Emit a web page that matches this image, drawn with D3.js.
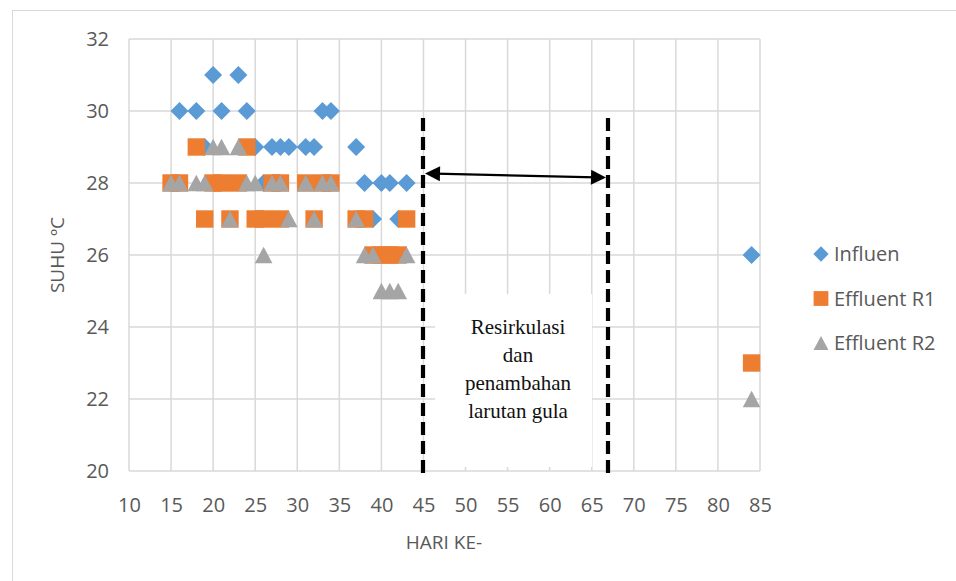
<!DOCTYPE html>
<html>
<head>
<meta charset="utf-8">
<script src="https://cdn.jsdelivr.net/npm/d3@7/dist/d3.min.js"></script>
<style>
  html, body { margin: 0; padding: 0; background: #fff; }
  svg { display: block; }
</style>
</head>
<body>
<svg id="chart" width="956" height="581"></svg>
<script>
// Temperature readings (°C) per day of operation
const influenDays   = [16, 18, 19, 20, 21, 23, 24, 25, 26, 27, 28, 29, 31, 32, 33, 34, 37, 38, 39, 40, 41, 42, 43, 84];
const influenValues = [30, 30, 29, 31, 30, 31, 30, 29, 28, 29, 29, 29, 29, 29, 30, 30, 29, 28, 27, 28, 28, 27, 28, 26];

const r1Days   = [15, 16, 18, 19, 20, 21, 22, 23, 24, 25, 26, 27, 28, 28, 31, 32, 33, 34, 37, 38, 39, 40, 41, 42, 43, 84];
const r1Values = [28, 28, 29, 27, 28, 28, 27, 28, 29, 27, 27, 28, 28, 27, 28, 27, 28, 28, 27, 27, 26, 26, 26, 26, 27, 23];

const r2Days   = [15, 16, 18, 19, 20, 21, 22, 23, 24, 25, 26, 27, 28, 29, 31, 32, 33, 34, 37, 38, 39, 40, 41, 42, 43, 84];
const r2Values = [28, 28, 28, 28, 29, 29, 27, 29, 28, 28, 26, 28, 28, 27, 28, 27, 28, 28, 27, 26, 26, 25, 25, 25, 26, 22];

const seriesNames = ["Influen", "Effluent R1", "Effluent R2"];
const xTicks = [10, 15, 20, 25, 30, 35, 40, 45, 50, 55, 60, 65, 70, 75, 80, 85];
const yTicks = [20, 22, 24, 26, 28, 30, 32];
const xTitle = "HARI KE-";
const yTitle = "SUHU ºC";
const noteLines = ["Resirkulasi", "dan", "penambahan", "larutan gula"];

const colors = ["#5B9BD5", "#ED7D31", "#A5A5A5"];
const font = "'Open Sans', sans-serif";
const textColor = "#595959";
const gridColor = "#D9D9D9";

const svg = d3.select("#chart");

// outer chart frame
svg.append("rect")
  .attr("x", 12.5).attr("y", 10.5).attr("width", 960).attr("height", 600)
  .attr("fill", "#fff").attr("stroke", gridColor).attr("stroke-width", 1);

const x = d3.scaleLinear().domain([10, 85]).range([129, 760]);
const y = d3.scaleLinear().domain([20, 32]).range([471, 39]);

// gridlines
const grid = svg.append("g");
grid.selectAll("line.h").data(yTicks).join("line")
  .attr("x1", x(10)).attr("x2", x(85))
  .attr("y1", d => y(d)).attr("y2", d => y(d))
  .attr("stroke", gridColor).attr("stroke-width", 1.5);
grid.selectAll("line.v").data(xTicks).join("line")
  .attr("y1", y(20)).attr("y2", y(32))
  .attr("x1", d => x(d)).attr("x2", d => x(d))
  .attr("stroke", gridColor).attr("stroke-width", 1.5);

// axes (labels only, lines come from the grid)
const xAxis = svg.append("g").attr("transform", `translate(0,${y(20)})`)
  .call(d3.axisBottom(x).tickValues(xTicks).tickSize(0).tickPadding(27).tickFormat(d3.format("d")));
const yAxis = svg.append("g").attr("transform", `translate(${x(10)},0)`)
  .call(d3.axisLeft(y).tickValues(yTicks).tickSize(0).tickPadding(20).tickFormat(d3.format("d")));
[xAxis, yAxis].forEach(a => {
  a.select(".domain").remove();
  a.selectAll("text").attr("font-family", font).attr("font-size", 20).attr("fill", textColor);
});

// axis titles
svg.append("text").text(xTitle)
  .attr("x", 444).attr("y", 549).attr("text-anchor", "middle")
  .attr("font-family", font).attr("font-size", 19).attr("fill", textColor);
svg.append("text").text(yTitle)
  .attr("transform", "translate(64,255) rotate(-90)").attr("text-anchor", "middle")
  .attr("font-family", font).attr("font-size", 19).attr("fill", textColor);

// marker shapes
const diamond = "M0,-9L9,0L0,9L-9,0Z";
const square  = "M-8.7,-8.7H8.7V8.7H-8.7Z";
const triangle = "M0,-8.2L8.8,8.2H-8.8Z";
const shapes = [diamond, square, triangle];

const series = [
  influenDays.map((d, i) => ({ day: d, value: influenValues[i] })),
  r1Days.map((d, i) => ({ day: d, value: r1Values[i] })),
  r2Days.map((d, i) => ({ day: d, value: r2Values[i] }))
];

series.forEach((pts, si) => {
  svg.append("g").selectAll("path").data(pts).join("path")
    .attr("d", shapes[si])
    .attr("transform", d => `translate(${x(d.day)},${y(d.value)})`)
    .attr("fill", colors[si]);
});

// legend
const legend = svg.append("g");
seriesNames.forEach((name, i) => {
  const ly = 254 + i * 44.5;
  legend.append("path").attr("d", shapes[i])
    .attr("transform", `translate(821,${ly}) scale(0.85)`).attr("fill", colors[i]);
  legend.append("text").text(name)
    .attr("x", 834).attr("y", ly).attr("dy", "0.35em")
    .attr("font-family", font).attr("font-size", 20).attr("fill", textColor);
});

// annotation text box
const boxX0 = 435, boxX1 = 592;
svg.append("rect")
  .attr("x", boxX0).attr("y", 294).attr("width", boxX1 - boxX0).attr("height", 173)
  .attr("fill", "#fff");
noteLines.forEach((t, i) => {
  svg.append("text").text(t)
    .attr("x", 518).attr("y", 334 + i * 28).attr("text-anchor", "middle")
    .attr("font-family", "'Liberation Serif', 'Times New Roman', serif")
    .attr("font-size", 21).attr("fill", "#111");
});

// dashed phase boundaries
const phaseX = [423, 608];
phaseX.forEach(px => {
  svg.append("line")
    .attr("x1", px).attr("x2", px).attr("y1", 118).attr("y2", 478)
    .attr("stroke", "#000").attr("stroke-width", 4.2)
    .attr("stroke-dasharray", "13,6");
});

// double-headed arrow between the boundaries
const ax0 = phaseX[0] + 2, ay0 = 173.5, ax1 = phaseX[1] - 2, ay1 = 177.5;
const ang = Math.atan2(ay1 - ay0, ax1 - ax0);
function head(px, py, dir) {
  const L = 15, W = 7.5;
  const c = Math.cos(ang) * dir, s = Math.sin(ang) * dir;
  const bx = px + L * c, by = py + L * s;
  return `M${px},${py}L${bx - W * s},${by + W * c}L${bx + W * s},${by - W * c}Z`;
}
svg.append("line")
  .attr("x1", ax0 + 10).attr("y1", ay0 + 10 * Math.tan(ang))
  .attr("x2", ax1 - 10).attr("y2", ay1 - 10 * Math.tan(ang))
  .attr("stroke", "#000").attr("stroke-width", 2.2);
svg.append("path").attr("d", head(ax0, ay0, 1)).attr("fill", "#000");
svg.append("path").attr("d", head(ax1, ay1, -1)).attr("fill", "#000");
</script>
</body>
</html>
